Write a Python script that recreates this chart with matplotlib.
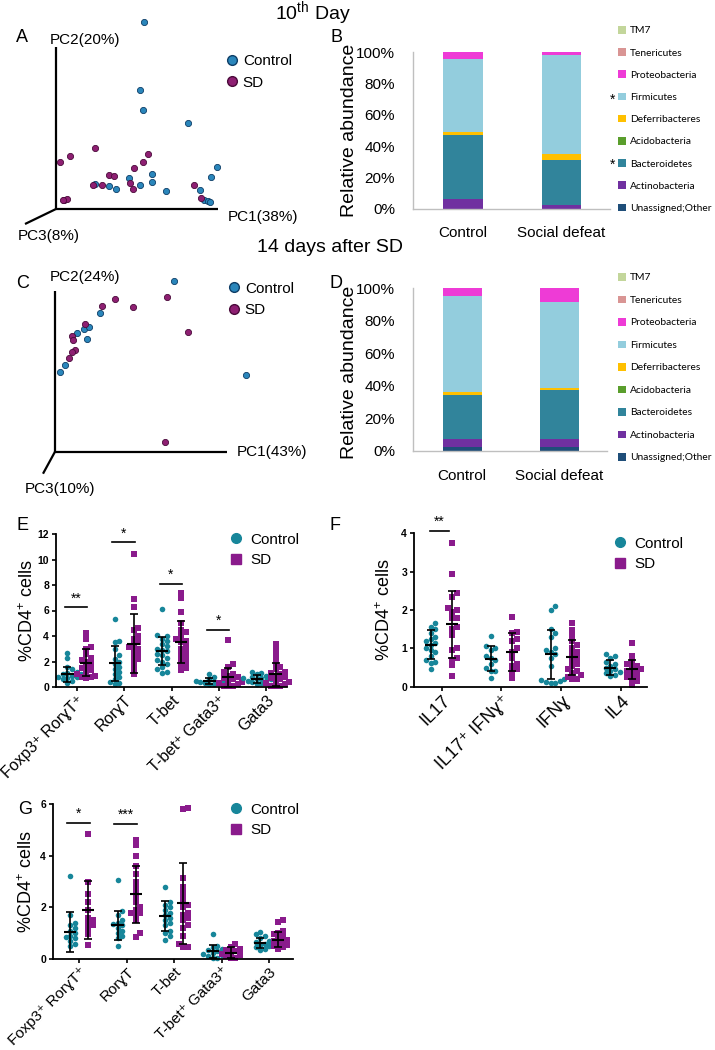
import matplotlib
matplotlib.use('Agg')
import matplotlib.pyplot as plt
import matplotlib.transforms as mtransforms
from matplotlib.lines import Line2D

plt.rcParams['font.family'] = ['Liberation Sans', 'DejaVu Sans']
plt.rcParams['mathtext.fontset'] = 'custom'
plt.rcParams['mathtext.rm'] = 'Liberation Sans'

W, H = 715, 1050

# ---------------- PCA data (projected PC1 / PC2 coordinates) ----------------
a_ctrl_x = [88, 84, 87, 132, 161, 155, 96, 96, 84, 73, 110, 144, 148, 152, 154, 60, 53, 39]
a_ctrl_y = [187, 119, 99, 86, 42, 32, 35, 27, 24, 31, 18, 19, 9, 8, 7, 20, 23, 25]
a_sd_x = [39, 14, 4, 92, 87, 78, 53, 58, 37, 46, 74, 77, 138, 145, 8, 11, 7]
a_sd_y = [61, 53, 47, 55, 47, 41, 34, 33, 24, 24, 26, 20, 24, 11, 9, 10, 9]

c_ctrl_x = [119, 45, 29, 34, 22, 32, 10, 5, 191]
c_ctrl_y = [171, 139, 123, 125, 119, 113, 87, 80, 77]
c_sd_x = [60, 47, 78, 112, 133, 30, 17, 18, 20, 17, 14, 110]
c_sd_y = [153, 146, 145, 155, 120, 128, 116, 112, 102, 100, 94, 10]

# ---------------- relative abundance (%) ----------------
phyla = ['Unassigned;Other', 'Actinobacteria', 'Bacteroidetes', 'Acidobacteria',
         'Deferribacteres', 'Firmicutes', 'Proteobacteria', 'Tenericutes', 'TM7']
phyla_colors = ['#1f4e79', '#7030a0', '#31849b', '#5a9e2c', '#ffc000',
                '#93cddd', '#ee3bd6', '#d99594', '#c3d69b']
bar_groups = ['Control', 'Social defeat']
d10_control = [0.3, 6.0, 40.7, 0.0, 2.0, 46.8, 4.2, 0.0, 0.0]
d10_sd = [0.3, 2.4, 28.3, 0.0, 4.0, 63.0, 2.0, 0.0, 0.0]
d14_control = [2.3, 4.9, 27.2, 0.0, 2.1, 59.0, 4.5, 0.0, 0.0]
d14_sd = [2.3, 4.9, 30.1, 0.0, 1.6, 52.9, 8.2, 0.0, 0.0]

# ---------------- %CD4+ cells, panel E ----------------
e_labels = ['Foxp3⁺ RorɣT⁺', 'RorɣT', 'T-bet', 'T-bet⁺ Gata3⁺', 'Gata3']
e_ctrl = [
    [2.7, 2.3, 1.6, 1.4, 1.2, 1.1, 1.0, 1.0, 0.9, 0.8, 0.8, 0.7, 0.6, 0.5, 0.3],
    [5.3, 3.6, 3.5, 3.0, 2.5, 2.2, 2.0, 1.8, 1.6, 1.4, 1.2, 1.0, 0.8, 0.6, 0.4, 0.3, 0.2],
    [6.1, 4.1, 4.0, 3.8, 3.6, 3.4, 3.2, 3.0, 2.9, 2.8, 2.6, 2.5, 2.3, 2.1, 2.0, 1.8, 1.6, 1.4, 1.2, 1.1],
    [1.0, 0.8, 0.6, 0.5, 0.5, 0.4, 0.4, 0.3, 0.3, 0.2, 0.2],
    [1.2, 1.1, 1.0, 0.9, 0.8, 0.7, 0.7, 0.6, 0.6, 0.5, 0.5, 0.4, 0.3, 0.2],
]
e_sd = [
    [4.2, 3.8, 3.1, 3.0, 2.6, 2.3, 2.1, 2.0, 1.8, 1.6, 1.5, 1.3, 1.2, 1.0, 0.9, 0.8, 0.8, 0.7],
    [10.4, 6.9, 6.3, 4.6, 4.5, 4.0, 3.8, 3.5, 3.3, 3.1, 3.0, 2.8, 2.6, 2.4, 2.2, 2.0, 1.5, 1.0],
    [7.4, 7.0, 5.9, 5.0, 4.5, 4.3, 4.0, 3.8, 3.6, 3.5, 3.2, 3.0, 2.8, 2.6, 2.4, 2.2, 2.0, 1.8, 1.5, 1.3],
    [3.7, 1.8, 1.6, 1.2, 1.0, 0.9, 0.8, 0.7, 0.6, 0.5, 0.4, 0.3, 0.2, 0.1, 0.1, 0.05],
    [3.4, 3.0, 2.6, 2.2, 1.8, 1.6, 1.4, 1.2, 1.1, 1.0, 0.9, 0.8, 0.7, 0.6, 0.5, 0.4, 0.3, 0.2, 0.1, 0.1, 0.05],
]
e_ctrl_mean = [1.0, 1.85, 2.85, 0.45, 0.65]
e_ctrl_err = [0.6, 1.35, 1.1, 0.23, 0.3]
e_sd_mean = [1.9, 3.4, 3.55, 0.75, 1.0]
e_sd_err = [1.05, 2.3, 1.65, 0.75, 0.9]
e_sig = [(0, '**', 6.25), (1, '*', 11.35), (2, '*', 8.1), (3, '*', 4.5)]

# ---------------- panel F ----------------
f_labels = ['IL17', 'IL17⁺ IFNɣ⁺', 'IFNɣ', 'IL4']
f_ctrl = [
    [1.65, 1.55, 1.5, 1.4, 1.3, 1.25, 1.2, 1.15, 1.1, 1.0, 0.95, 0.9, 0.8, 0.7, 0.65, 0.62, 0.45],
    [1.33, 1.05, 1.0, 0.95, 0.8, 0.75, 0.7, 0.6, 0.5, 0.42, 0.4, 0.23],
    [2.1, 2.0, 1.5, 1.4, 1.3, 1.0, 0.95, 0.9, 0.85, 0.75, 0.55, 0.2, 0.18, 0.15, 0.12, 0.1, 0.1],
    [0.85, 0.8, 0.75, 0.65, 0.6, 0.55, 0.5, 0.45, 0.4, 0.38, 0.35, 0.3, 0.28],
]
f_sd = [
    [3.75, 2.95, 2.45, 2.35, 2.05, 2.0, 1.95, 1.8, 1.8, 1.55, 1.5, 1.35, 1.0, 0.95, 0.75, 0.7, 0.57, 0.27],
    [1.83, 1.42, 1.4, 1.25, 1.2, 1.0, 0.9, 0.75, 0.6, 0.55, 0.45, 0.38, 0.22],
    [1.67, 1.48, 1.32, 1.2, 1.1, 1.0, 0.9, 0.85, 0.75, 0.7, 0.6, 0.55, 0.45, 0.4, 0.35, 0.3, 0.25, 0.2, 0.2],
    [1.15, 0.8, 0.65, 0.6, 0.55, 0.5, 0.45, 0.42, 0.4, 0.35, 0.3, 0.25, 0.2, 0.15, 0.05],
]
f_ctrl_mean = [1.1, 0.73, 0.84, 0.5]
f_ctrl_err = [0.37, 0.32, 0.64, 0.2]
f_sd_mean = [1.63, 0.9, 0.77, 0.45]
f_sd_err = [0.87, 0.5, 0.46, 0.25]
f_sig = [(0, '**', 4.06)]

# ---------------- panel G ----------------
g_labels = e_labels
g_ctrl = [
    [3.2, 1.7, 1.4, 1.3, 1.2, 1.1, 1.0, 0.9, 0.85, 0.8, 0.7, 0.6, 0.5],
    [3.05, 1.85, 1.7, 1.5, 1.4, 1.35, 1.3, 1.2, 1.1, 1.0, 0.9, 0.8, 0.5],
    [2.8, 2.2, 2.1, 2.0, 1.9, 1.8, 1.7, 1.6, 1.5, 1.4, 1.3, 1.1, 1.0, 0.9, 0.75],
    [0.98, 0.5, 0.45, 0.4, 0.35, 0.3, 0.25, 0.2, 0.15, 0.1, 0.05, 0.05],
    [1.05, 0.95, 0.9, 0.8, 0.7, 0.65, 0.6, 0.55, 0.5, 0.45, 0.4, 0.35],
]
g_sd = [
    [4.85, 3.0, 2.5, 2.2, 1.9, 1.6, 1.5, 1.4, 1.3, 1.2, 0.95, 0.55],
    [4.6, 4.4, 3.98, 3.6, 3.3, 3.0, 2.8, 2.6, 2.4, 2.2, 2.0, 1.9, 1.8, 1.8, 1.7, 1.5, 1.0, 0.85],
    [5.85, 5.8, 3.15, 2.8, 2.6, 2.4, 2.2, 2.1, 2.0, 1.8, 1.7, 1.6, 1.5, 1.3, 1.2, 0.9, 0.6, 0.45, 0.45],
    [0.58, 0.45, 0.4, 0.35, 0.3, 0.25, 0.2, 0.15, 0.1, 0.05, 0.05],
    [1.5, 1.45, 1.1, 1.0, 0.95, 0.85, 0.8, 0.75, 0.7, 0.65, 0.6, 0.55, 0.5, 0.45, 0.4],
]
g_ctrl_mean = [1.05, 1.3, 1.67, 0.3, 0.62]
g_ctrl_err = [0.78, 0.57, 0.57, 0.25, 0.21]
g_sd_mean = [1.9, 2.5, 2.15, 0.25, 0.75]
g_sd_err = [1.12, 1.1, 1.55, 0.2, 0.3]
g_sig = [(0, '*', 5.28), (1, '***', 5.23)]

TEAL = '#17869a'
PURPLE = '#8a1b8c'

fig = plt.figure(figsize=(W / 100, H / 100), dpi=100)


def px_axes(l, t, r, b):
    return fig.add_axes([l / W, 1 - b / H, (r - l) / W, (b - t) / H])


def ftext(x, y, s, **kw):
    return fig.text(x / W, 1 - y / H, s, **kw)


def swarm(vals, center, xscale, yscale, d):
    # simple deterministic beeswarm layout in pixel space
    placed = []
    res = [0.0] * len(vals)
    order = sorted(range(len(vals)), key=lambda i: vals[i])
    for i in order:
        y = vals[i] * yscale
        k = 0
        chosen = None
        while chosen is None:
            cands = [0.0] if k == 0 else [k * d * 0.5, -k * d * 0.5]
            for c in cands:
                if all((c - px) ** 2 + (y - py) ** 2 >= d * d for px, py in placed):
                    chosen = c
                    break
            k += 1
        placed.append((chosen, y))
        res[i] = center + chosen / xscale
    return res


# ---------------- titles and letters ----------------
ftext(313, 14, '10$^{\\mathrm{th}}$ Day', fontsize=14, ha='center', va='center')
ftext(330, 247, '14 days after SD', fontsize=14, ha='center', va='center')
for letter, x, y in [('A', 22, 37), ('B', 337, 37), ('C', 23, 283), ('D', 336, 283),
                     ('E', 22, 526), ('F', 335, 526), ('G', 25, 809)]:
    ftext(x, y, letter, fontsize=13, ha='center', va='center')


# ---------------- PCA panels ----------------
def pca_panel(l, t, r, b, ox, oy, cx, cy, sx, sy, axlen, labels, leg_xy):
    ax = px_axes(l, t, r, b)
    ax.set_xlim(l - ox, r - ox)
    ax.set_ylim(oy - b, oy - t)
    ax.axis('off')
    for ex, ey in axlen:
        ax.plot([0, ex], [0, ey], color='black', lw=1.6, solid_capstyle='butt')
    for (s, lx, ly) in labels:
        ax.text(lx, ly, s, fontsize=11, ha='left', va='center')
    ax.scatter(cx, cy, s=20, color='#2a86bb', edgecolor='#0e3d66', lw=0.6, zorder=3)
    ax.scatter(sx, sy, s=20, color='#8e1f72', edgecolor='#4a0a3a', lw=0.6, zorder=3)
    handles = [Line2D([], [], ls='none', marker='o', markersize=7, markerfacecolor='#2a86bb',
                      markeredgecolor='#0e3d66'),
               Line2D([], [], ls='none', marker='o', markersize=7, markerfacecolor='#8e1f72',
                      markeredgecolor='#4a0a3a')]
    ax.legend(handles, ['Control', 'SD'], loc='center left',
              bbox_to_anchor=(leg_xy[0] / W, 1 - leg_xy[1] / H), bbox_transform=fig.transFigure,
              frameon=False, borderpad=0, fontsize=11, handlelength=0.8, handletextpad=0.3,
              labelspacing=0.5, borderaxespad=0)


pca_panel(0, 15, 330, 245, 56, 209, a_ctrl_x, a_ctrl_y, a_sd_x, a_sd_y,
          [(0, 162), (162, 0), (-31, -15)],
          [('PC2(20%)', -6, 169), ('PC1(38%)', 172, -8), ('PC3(8%)', -38, -27)],
          (226, 72))
pca_panel(0, 262, 330, 500, 55, 451.7, c_ctrl_x, c_ctrl_y, c_sd_x, c_sd_y,
          [(0, 161), (172, 0), (-12, -22)],
          [('PC2(24%)', -5, 175), ('PC1(43%)', 182, 0), ('PC3(10%)', -30, -37)],
          (228, 299.5))


# ---------------- stacked bars ----------------
def abundance_panel(l, t, r, b, ctrl, sd, ylab_y, leg_y, spacing_ls, xpad, stars):
    ax = px_axes(l, t, r, b)
    xs = [0, 1]
    bottoms = [0.0, 0.0]
    for k, name in enumerate(phyla):
        vals = [ctrl[k], sd[k]]
        ax.bar(xs, vals, width=0.40, bottom=bottoms, color=phyla_colors[k], label=name, lw=0)
        bottoms = [bottoms[0] + vals[0], bottoms[1] + vals[1]]
    ax.set_xlim(-0.505, 1.49)
    ax.set_ylim(0, 100)
    ax.set_yticks([0, 20, 40, 60, 80, 100])
    ax.set_yticklabels(['0%', '20%', '40%', '60%', '80%', '100%'])
    ax.set_xticks(xs)
    ax.set_xticklabels(bar_groups)
    ax.tick_params(axis='y', length=0, pad=13, labelsize=11)
    ax.tick_params(axis='x', length=0, pad=xpad, labelsize=11)
    for sp in ['top', 'right']:
        ax.spines[sp].set_visible(False)
    for sp in ['left', 'bottom']:
        ax.spines[sp].set_color('#bfbfbf')
        ax.spines[sp].set_linewidth(1.0)
    ftext(349, ylab_y, 'Relative abundance', fontsize=14, rotation=90, ha='center', va='center')
    h, lab = ax.get_legend_handles_labels()
    ax.legend(h[::-1], lab[::-1], loc='center left',
              bbox_to_anchor=(618 / W, 1 - leg_y / H), bbox_transform=fig.transFigure,
              frameon=False, borderpad=0, borderaxespad=0,
              prop={'family': ['Lato', 'DejaVu Sans'], 'size': 7.4},
              handlelength=0.75, handleheight=0.75, handletextpad=0.4, labelspacing=spacing_ls)
    for sy in stars:
        ftext(613, sy, '*', fontsize=10, ha='center', va='center')


abundance_panel(413, 52, 610, 209, d10_control, d10_sd, 130, 119.5, 1.25, 12, [100, 165])
abundance_panel(413, 288.3, 607, 451, d14_control, d14_sd, 372, 367.8, 1.28, 13, [])


# ---------------- scatter dot plots ----------------
def dot_panel(l, t, r, b, labels, ctrl, sd, cm, ce, sm, se, sig, ymax, ystep,
              xlo, xhi, off, meanw, siglo, sighi, lab_dx, lab_size, ylab_x, leg_xy):
    ax = px_axes(l, t, r, b)
    n = len(labels)
    ax.set_xlim(xlo, xhi)
    ax.set_ylim(0, ymax)
    xscale = (r - l) / (xhi - xlo)
    yscale = (b - t) / ymax
    for i in range(n):
        xc = swarm(ctrl[i], i - off, xscale, yscale, 4.6)
        xsd = swarm(sd[i], i + off, xscale, yscale, 4.6)
        ax.scatter(xc, ctrl[i], s=16, marker='o', color=TEAL, lw=0, zorder=2, clip_on=False)
        ax.scatter(xsd, sd[i], s=14, marker='s', color=PURPLE, lw=0, zorder=2, clip_on=False)
        for xx, m, e in [(i - off, cm[i], ce[i]), (i + off, sm[i], se[i])]:
            ax.errorbar([xx], [m], yerr=[e], fmt='none', ecolor='black', elinewidth=1.2,
                        capsize=3, capthick=1.2, zorder=4, clip_on=False)
            ax.hlines(m, xx - meanw, xx + meanw, color='black', lw=1.5, zorder=4)
    for (gi, stars, yy) in sig:
        ax.plot([gi + siglo, gi + sighi], [yy, yy], color='black', lw=1.2, clip_on=False)
        ax.text(gi + (siglo + sighi) / 2, yy + ymax * 0.012, stars, fontsize=10,
                ha='center', va='bottom', clip_on=False)
    ax.set_yticks(list(range(0, ymax + 1, ystep)))
    ax.set_xticks(range(n))
    ax.set_xticklabels(labels, rotation=45, ha='right', va='top', rotation_mode='anchor',
                       fontsize=lab_size)
    shift = mtransforms.ScaledTranslation(lab_dx / 100, 0, fig.dpi_scale_trans)
    for lab in ax.get_xticklabels():
        lab.set_transform(lab.get_transform() + shift)
    ax.tick_params(axis='y', labelsize=7.5, length=3, width=1.2, pad=2)
    ax.tick_params(axis='x', length=3, width=1.2, pad=1)
    for lab in ax.get_yticklabels():
        lab.set_fontweight('bold')
    for sp in ['top', 'right']:
        ax.spines[sp].set_visible(False)
    for sp in ['left', 'bottom']:
        ax.spines[sp].set_linewidth(1.3)
    ax.set_ylabel('%CD4$^{+}$ cells', fontsize=13)
    ax.yaxis.set_label_coords((ylab_x - l) / (r - l), 0.5)
    handles = [Line2D([], [], ls='none', marker='o', markersize=7, color=TEAL),
               Line2D([], [], ls='none', marker='s', markersize=7, color=PURPLE)]
    ax.legend(handles, ['Control', 'SD'], loc='center left',
              bbox_to_anchor=(leg_xy[0] / W, 1 - leg_xy[1] / H), bbox_transform=fig.transFigure,
              frameon=False, borderpad=0, borderaxespad=0, fontsize=11, handlelength=1.0,
              handletextpad=0.45, labelspacing=0.45)
    return ax


dot_panel(56, 534, 287, 687, e_labels, e_ctrl, e_sd, e_ctrl_mean, e_ctrl_err, e_sd_mean,
          e_sd_err, e_sig, 12, 2, -0.44, 4.44, 0.2, 0.13, -0.25, 0.22, 22, 11.5, 37, (228, 550))
dot_panel(414, 533.3, 647, 686.7, f_labels, f_ctrl, f_sd, f_ctrl_mean, f_ctrl_err, f_sd_mean,
          f_sd_err, f_sig, 4, 1, -0.46, 3.43, 0.18, 0.1, -0.2, 0.12, 6, 13, 394, (612, 554))
dot_panel(53, 804, 293, 959, g_labels, g_ctrl, g_sd, g_ctrl_mean, g_ctrl_err, g_sd_mean,
          g_sd_err, g_sig, 6, 2, -0.55, 4.5, 0.19, 0.13, -0.26, 0.22, 22, 11, 36, (228, 820))

fig.savefig('out.png', dpi=100)
